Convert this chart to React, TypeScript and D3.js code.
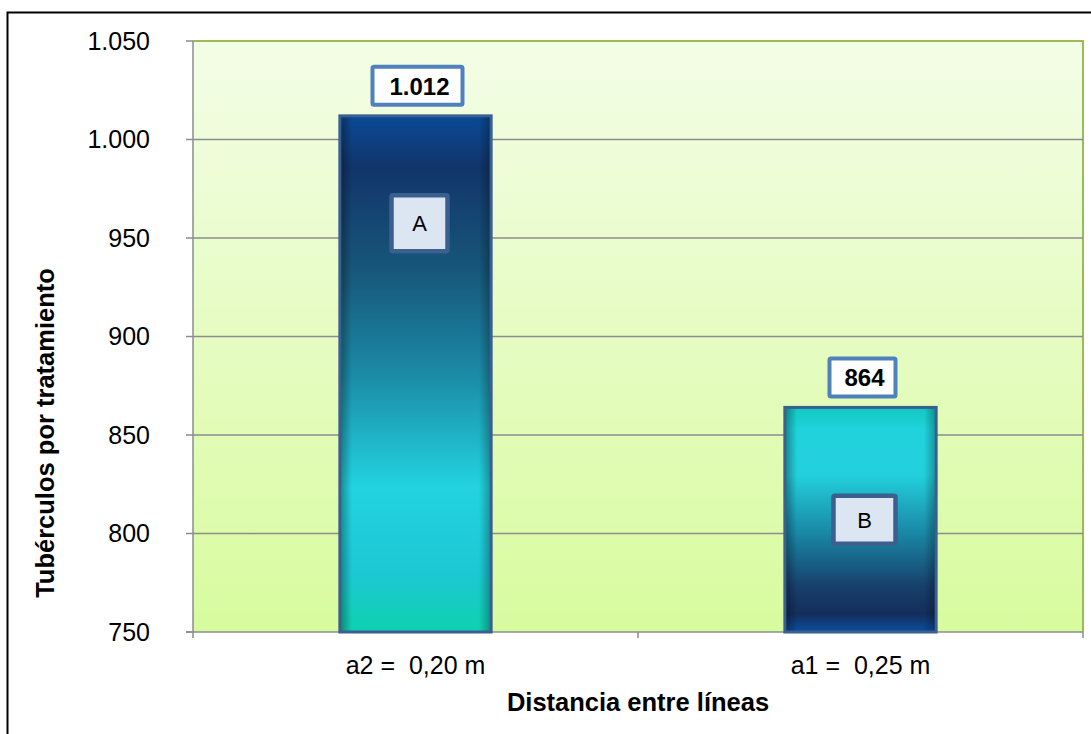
import React from "react";
import * as d3 from "d3";

// Tubers per treatment by row spacing
const categories = ["a2 =  0,20 m", "a1 =  0,25 m"];
const values = [1012, 864];
const valueLabels = ["1.012", "864"];
const groupLetters = ["A", "B"];
const letterLevels = [957.5, 807];
const yTicks = [750, 800, 850, 900, 950, 1000, 1050];
const yTickLabels = ["750", "800", "850", "900", "950", "1.000", "1.050"];

const W = 1091;
const H = 734;
const plot = { left: 193, right: 1083, top: 41, bottom: 632 };

export default function App() {
  const x = d3
    .scaleBand<string>()
    .domain(categories)
    .range([plot.left, plot.right])
    .paddingInner(0.66)
    .paddingOuter(0.33);
  const y = d3.scaleLinear().domain([750, 1050]).range([plot.bottom, plot.top]);
  const font = "Liberation Sans, Arial, sans-serif";

  return (
    <svg
      width={W}
      height={H}
      style={{ position: "absolute", left: 0, top: 0, background: "#fff" }}
      fontFamily={font}
    >
      <defs>
        <linearGradient id="plotBg" x1="0" y1="0" x2="0" y2="1">
          <stop offset="0" stopColor="#f3fde6" />
          <stop offset="1" stopColor="#d8fb9e" />
        </linearGradient>
        <linearGradient id="barDark" x1="0" y1="0" x2="0" y2="1">
          <stop offset="0" stopColor="#0a4a96" />
          <stop offset="0.1" stopColor="#12356a" />
          <stop offset="0.3" stopColor="#17577a" />
          <stop offset="0.5" stopColor="#1b8aa6" />
          <stop offset="0.72" stopColor="#22d3e0" />
          <stop offset="0.88" stopColor="#1cc8d4" />
          <stop offset="1" stopColor="#0ed0b0" />
        </linearGradient>
        <linearGradient id="barLight" x1="0" y1="0" x2="0" y2="1">
          <stop offset="0" stopColor="#12c8c0" />
          <stop offset="0.1" stopColor="#20d2dc" />
          <stop offset="0.3" stopColor="#22d0dc" />
          <stop offset="0.55" stopColor="#1a8aa8" />
          <stop offset="0.8" stopColor="#173f6a" />
          <stop offset="0.92" stopColor="#142e5c" />
          <stop offset="1" stopColor="#0b4ea0" />
        </linearGradient>
        <linearGradient id="barEdge" x1="0" y1="0" x2="1" y2="0">
          <stop offset="0" stopColor="#000" stopOpacity="0.35" />
          <stop offset="0.08" stopColor="#000" stopOpacity="0" />
          <stop offset="0.92" stopColor="#000" stopOpacity="0" />
          <stop offset="1" stopColor="#000" stopOpacity="0.3" />
        </linearGradient>
      </defs>

      {/* outer frame */}
      <rect x={7.5} y={12.5} width={W + 10} height={H + 10} fill="none" stroke="#000" strokeWidth={2} />

      {/* plot area */}
      <rect
        x={plot.left}
        y={plot.top}
        width={plot.right - plot.left}
        height={plot.bottom - plot.top}
        fill="url(#plotBg)"
      />
      <path
        d={`M${plot.left},${plot.top}H${plot.right}V${plot.bottom}`}
        fill="none"
        stroke="#9bbb59"
        strokeWidth={2}
      />

      {/* gridlines */}
      {yTicks.slice(1, -1).map((t) => (
        <line key={t} x1={plot.left} x2={plot.right} y1={y(t)} y2={y(t)} stroke="#8c8c8c" strokeWidth={1.3} />
      ))}

      {/* y axis */}
      <line x1={plot.left} x2={plot.left} y1={plot.top} y2={plot.bottom} stroke="#8c8c8c" strokeWidth={1.5} />
      {yTicks.map((t, i) => (
        <g key={t}>
          <line x1={plot.left - 7} x2={plot.left} y1={y(t)} y2={y(t)} stroke="#8c8c8c" strokeWidth={1.5} />
          <text x={150} y={y(t)} dy="0.35em" textAnchor="end" fontSize={25} fill="#000">
            {yTickLabels[i]}
          </text>
        </g>
      ))}

      {/* x axis */}
      <line x1={plot.left - 7} x2={plot.right} y1={plot.bottom} y2={plot.bottom} stroke="#8c8c8c" strokeWidth={1.5} />
      {[plot.left, (plot.left + plot.right) / 2, plot.right].map((px, i) => (
        <line key={i} x1={px} x2={px} y1={plot.bottom} y2={plot.bottom + 6} stroke="#8c8c8c" strokeWidth={1.5} />
      ))}

      {/* bars */}
      {categories.map((c, i) => {
        const bx = x(c)!;
        const bw = x.bandwidth();
        const top = y(values[i]);
        const h = plot.bottom - top;
        return (
          <g key={c}>
            <rect x={bx} y={top} width={bw} height={h} fill={i === 0 ? "url(#barDark)" : "url(#barLight)"} />
            <rect x={bx} y={top} width={bw} height={h} fill="url(#barEdge)" />
            <rect x={bx} y={top} width={bw} height={h} fill="none" stroke="#3b5f8f" strokeWidth={3} />
          </g>
        );
      })}

      {/* value labels */}
      {categories.map((c, i) => {
        const cx = x(c)! + x.bandwidth() / 2;
        const top = y(values[i]);
        const bw = i === 0 ? 90 : 66;
        return (
          <g key={c}>
            <rect
              x={cx - bw / 2 + 2}
              y={top - 49}
              width={bw}
              height={38}
              fill="#fff"
              stroke="#4f81bd"
              strokeWidth={4}
              rx={1.5}
            />
            <text x={cx + 4} y={top - 30} dy="0.36em" textAnchor="middle" fontSize={24} fontWeight="bold">
              {valueLabels[i]}
            </text>
          </g>
        );
      })}

      {/* significance letters */}
      {categories.map((c, i) => {
        const cx = x(c)! + x.bandwidth() / 2;
        const cy = y(letterLevels[i]);
        const w = i === 0 ? 56 : 62;
        const h = i === 0 ? 56 : 48;
        return (
          <g key={c}>
            <rect x={cx - w / 2 + 4} y={cy - h / 2} width={w} height={h} fill="#dce6f2" stroke="#3b5f8f" strokeWidth={4.5} rx={1.5} />
            <text x={cx + 4} y={cy} dy="0.36em" textAnchor="middle" fontSize={22}>
              {groupLetters[i]}
            </text>
          </g>
        );
      })}

      {/* category labels */}
      {categories.map((c) => (
        <text key={c} x={x(c)! + x.bandwidth() / 2} y={665} dy="0.35em" textAnchor="middle" fontSize={25} xmlSpace="preserve">
          {c}
        </text>
      ))}

      {/* axis titles */}
      <text x={638} y={702} dy="0.35em" textAnchor="middle" fontSize={25.5} fontWeight="bold">
        Distancia entre líneas
      </text>
      <text
        transform="translate(45,433) rotate(-90)"
        dy="0.35em"
        textAnchor="middle"
        fontSize={25.5}
        fontWeight="bold"
      >
        Tubérculos por tratamiento
      </text>
    </svg>
  );
}
